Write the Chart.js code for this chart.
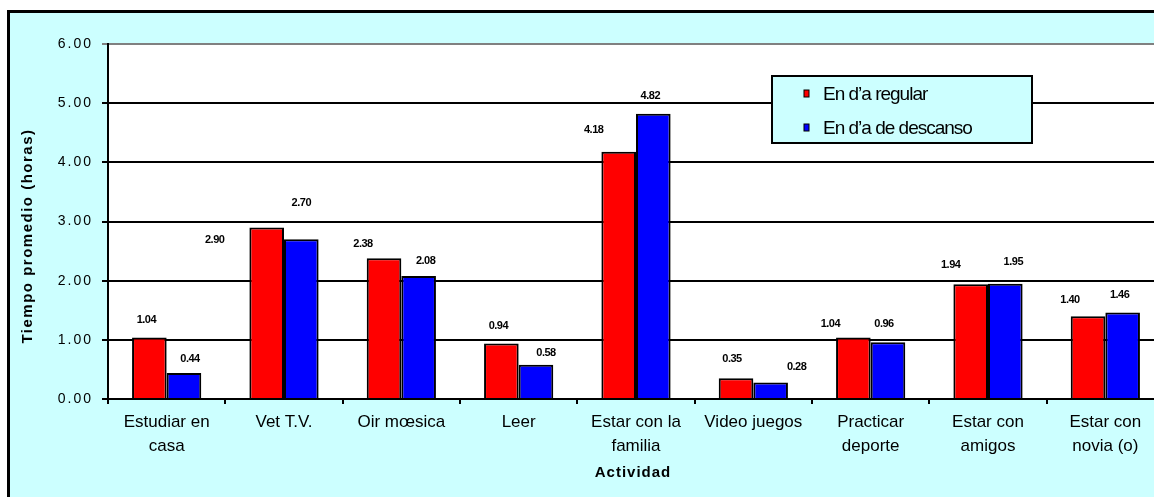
<!DOCTYPE html>
<html>
<head>
<meta charset="utf-8">
<script src="https://cdn.jsdelivr.net/npm/chart.js@4/dist/chart.umd.min.js"></script>
<style>
    html, body { margin: 0; padding: 0; overflow: hidden; width: 1154px; height: 497px; background: #fff; }
    #frame { position: absolute; left: 7px; top: 10px; width: 1200px; height: 520px; border: 3px solid #000; background: #ccffff; }
    #chart { position: absolute; left: 0; top: 0; }
</style>
</head>
<body>
<div id="frame"></div>
<canvas id="chart" width="1180" height="497"></canvas>
<script>
// datos
const actividades = [
    ["Estudiar en", "casa"], "Vet T.V.", "Oir mœsica", "Leer", ["Estar con la", "familia"],
    "Video juegos", ["Practicar", "deporte"], ["Estar con", "amigos"], ["Estar con", "novia (o)"]
];
const diaRegular = [1.04, 2.90, 2.38, 0.94, 4.18, 0.35, 1.04, 1.94, 1.40];
const diaDescanso = [0.44, 2.70, 2.08, 0.58, 4.82, 0.28, 0.96, 1.95, 1.46];
const nombresSeries = ["En d’a regular", "En d’a de descanso"];
const yTicks = [0, 1, 2, 3, 4, 5, 6];

// desplazamiento de las etiquetas de valor respecto a la punta de la barra (px)
const labelNudge = [
    [[-3, -17], [-52, 13], [-21, -14], [-3, -17], [-25, -22], [-4, -19], [-23, -13], [-20, -19], [-18, -16]],
    [[6, -14], [0, -36], [7, -15], [10, -12], [-3, -18], [26, -15], [-4, -18], [8, -22], [-3, -18]]
];
const colores = ["#ff0000", "#0000ff"];
const FONT = '"Liberation Sans", Arial, sans-serif';

const decor = {
    id: "decor",
    beforeDraw(chart) {
        const { ctx, chartArea: a } = chart;
        ctx.save();
        ctx.fillStyle = "#fff";
        ctx.fillRect(a.left, a.top, a.right - a.left, a.bottom - a.top);
        ctx.restore();
    },
    afterDraw(chart) {
        const { ctx, chartArea: a, scales } = chart;
        const x = scales.x, y = scales.y;
        ctx.save();
        ctx.fillStyle = "#000";

        // etiquetas eje Y
        ctx.font = "14px " + FONT;
        ctx.letterSpacing = "2px";
        ctx.textAlign = "right";
        ctx.textBaseline = "middle";
        yTicks.forEach(v => ctx.fillText(v.toFixed(2), a.left - 17 + 2, y.getPixelForValue(v)));

        // etiquetas eje X
        ctx.font = "17px " + FONT;
        ctx.letterSpacing = "0px";
        ctx.textAlign = "center";
        actividades.forEach((lbl, i) => {
            const lines = Array.isArray(lbl) ? lbl : [lbl];
            lines.forEach((t, k) => ctx.fillText(t, x.getPixelForTick(i), a.bottom + 23 + k * 24));
        });

        // valores sobre las barras
        ctx.font = "bold 11px " + FONT;
        ctx.letterSpacing = "-0.5px";
        chart.data.datasets.forEach((ds, si) => {
            chart.getDatasetMeta(si).data.forEach((bar, j) => {
                const [dx, dy] = labelNudge[si][j];
                ctx.fillText(ds.data[j].toFixed(2), bar.x + dx, bar.y + dy);
            });
        });

        // titulos de ejes
        ctx.font = "bold 15px " + FONT;
        ctx.letterSpacing = "1px";
        ctx.fillText("Actividad", (a.left + a.right) / 2 - 3, 473);

        ctx.save();
        ctx.translate(28, 236);
        ctx.rotate(-Math.PI / 2);
        ctx.font = "bold 15px " + FONT;
        ctx.letterSpacing = "1.5px";
        ctx.fillText("Tiempo promedio (horas)", 0, 0);
        ctx.restore();

        // leyenda
        const lx = a.left + 664, ly = a.top + 32, lw = 260, lh = 67;
        ctx.fillStyle = "#000";
        ctx.fillRect(lx + 1, ly + 1, lw, lh);
        ctx.fillStyle = "#ccffff";
        ctx.fillRect(lx, ly, lw, lh);
        ctx.strokeStyle = "#000";
        ctx.lineWidth = 2;
        ctx.strokeRect(lx, ly, lw, lh);

        ctx.font = "19px " + FONT;
        ctx.letterSpacing = "-1px";
        ctx.textAlign = "left";
        ctx.textBaseline = "alphabetic";
        nombresSeries.forEach((name, i) => {
            const cy = ly + 17 + i * 34;
            ctx.fillStyle = colores[i];
            ctx.fillRect(lx + 32, cy - 3, 5, 7);
            ctx.lineWidth = 1;
            ctx.strokeRect(lx + 32, cy - 3, 5, 7);
            ctx.fillStyle = "#000";
            ctx.fillText(name, lx + 51, cy + 7);
        });
        ctx.restore();
    }
};

new Chart(document.getElementById("chart"), {
    type: "bar",
    data: {
        labels: actividades,
        datasets: [
            { label: nombresSeries[0], data: diaRegular, backgroundColor: colores[0] },
            { label: nombresSeries[1], data: diaDescanso, backgroundColor: colores[1] }
        ]
    },
    options: {
        responsive: false,
        animation: false,
        layout: { padding: { top: 44, right: 16, left: 0, bottom: 0 } },
        datasets: {
            bar: {
                borderColor: "#000",
                borderWidth: 2,
                categoryPercentage: 0.59,
                barPercentage: 1
            }
        },
        plugins: {
            legend: { display: false },
            tooltip: { enabled: false }
        },
        scales: {
            x: {
                offset: true,
                grid: { offset: true, drawOnChartArea: false, tickLength: 5, color: "#000", lineWidth: 2 },
                border: { color: "#000", width: 2 },
                ticks: { display: false },
                afterFit: s => { s.height = 98; }
            },
            y: {
                min: yTicks[0],
                max: yTicks[yTicks.length - 1],
                afterBuildTicks: s => { s.ticks = yTicks.map(v => ({ value: v })); },
                grid: {
                    tickLength: 6,
                    lineWidth: 2,
                    color: c => (c.tick && c.tick.value === yTicks[yTicks.length - 1]) ? "#808080" : "#000"
                },
                border: { color: "#000", width: 2 },
                ticks: { display: false },
                afterFit: s => { s.width = 108; }
            }
        }
    },
    plugins: [decor]
});
</script>
</body>
</html>
